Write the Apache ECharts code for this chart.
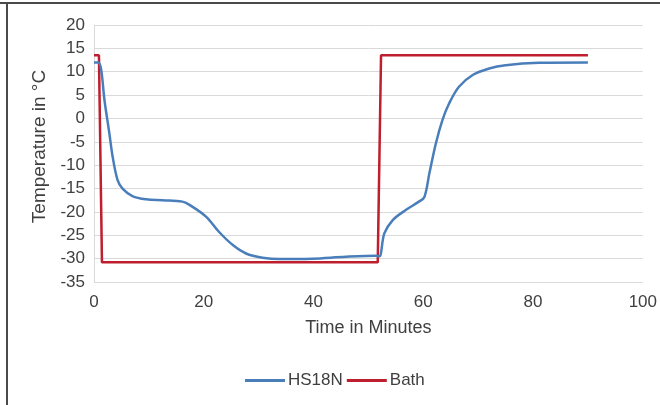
<!DOCTYPE html>
<html><head><meta charset="utf-8">
<script src="https://cdn.jsdelivr.net/npm/echarts@6/dist/echarts.min.js"></script>
<style>html,body{margin:0;padding:0;background:#fff}#c{width:660px;height:405px}</style>
</head><body><div id="c"></div>
<script>
var hsTime = [0, 0.8, 1.3, 1.9, 2.8, 3.4, 4.3, 5.2, 7, 9.5, 12.5, 16.1, 17.4, 20.4, 22.8, 25.3, 27.7, 30.7, 33.8, 39.8, 45.9, 51.4, 52, 52.9, 54.4, 56.8, 59.2, 60.2, 61.1, 62.3, 63.5, 64.7, 66.5, 69, 72, 75, 81.1, 90];
var hsTemp = [12, 12, 10.5, 4, -3.2, -8.2, -13.2, -15, -16.6, -17.3, -17.5, -17.8, -18.5, -21, -24.3, -27.1, -28.9, -29.8, -30.1, -30, -29.6, -29.4, -29.5, -24.6, -21.8, -19.6, -17.8, -16.8, -11.8, -5.3, -0.3, 3.2, 6.8, 9.3, 10.7, 11.4, 11.9, 12];
var bathTime = [0, 0.9, 1.45, 51.7, 52.3, 90];
var bathTemp = [13.5, 13.5, -30.8, -30.8, 13.5, 13.5];
var xTicks = [0, 20, 40, 60, 80, 100];
var seriesNames = ['HS18N', 'Bath'];

function zip(a, b) { return a.map(function (v, i) { return [v, b[i]]; }); }

var chart = echarts.init(document.getElementById('c'), null, {renderer: 'canvas'});
var font = 'Liberation Sans, Arial, sans-serif';
chart.setOption({
  animation: false,
  graphic: [
    {type: 'rect', shape: {x: 0, y: 2, width: 660, height: 2}, style: {fill: '#4a4a4a'}},
    {type: 'rect', shape: {x: 6, y: 2, width: 2, height: 403}, style: {fill: '#4a4a4a'}}
  ],
  grid: {left: 94, right: 17, top: 25, bottom: 123},
  legend: {
    data: seriesNames, bottom: 11, left: 240, itemWidth: 40, itemHeight: 3, itemGap: 4,
    icon: 'rect', padding: 5,
    textStyle: {fontFamily: font, fontSize: 17, color: '#404040', padding: [0, 0, 0, -2]}
  },
  xAxis: {
    type: 'value', min: xTicks[0], max: xTicks[xTicks.length - 1], interval: 20,
    name: 'Time in Minutes', nameLocation: 'middle', nameGap: 37,
    nameTextStyle: {fontFamily: font, fontSize: 18, color: '#404040'},
    axisLine: {show: false}, axisTick: {show: false},
    splitLine: {show: false},
    axisLabel: {fontFamily: font, fontSize: 17, color: '#404040', margin: 12}
  },
  yAxis: {
    type: 'value', min: -35, max: 20, interval: 5,
    name: 'Temperature in °C', nameLocation: 'middle', nameGap: 43,
    nameTextStyle: {fontFamily: font, fontSize: 19, color: '#404040', padding: [0, 0, 0, 14]},
    axisLine: {show: true, lineStyle: {color: '#d9d9d9'}}, axisTick: {show: false},
    splitLine: {lineStyle: {color: '#d9d9d9'}},
    axisLabel: {fontFamily: font, fontSize: 17, color: '#404040', margin: 9}
  },
  series: [
    {name: seriesNames[0], type: 'line', data: zip(hsTime, hsTemp), smooth: 0.35, showSymbol: false,
     lineStyle: {color: '#4A7EBB', width: 2.5}, itemStyle: {color: '#4A7EBB'}, z: 3},
    {name: seriesNames[1], type: 'line', data: zip(bathTime, bathTemp), showSymbol: false,
     lineStyle: {color: '#BE1E2D', width: 2.5}, itemStyle: {color: '#BE1E2D'}, z: 2}
  ]
});
</script></body></html>
